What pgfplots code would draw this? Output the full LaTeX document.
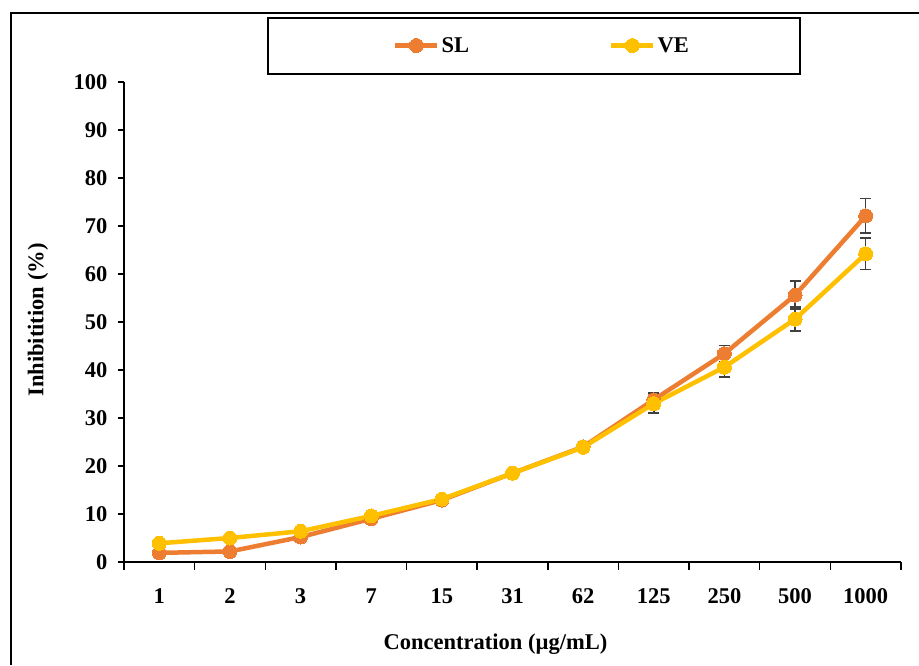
\documentclass[border=0pt]{standalone}
\usepackage{fontspec}
\setmainfont{Liberation Serif}
\usepackage{pgfplots}
\pgfplotsset{compat=1.18}
\usepackage{pgfplotstable}
\definecolor{slc}{HTML}{ED7D31}
\definecolor{vec}{HTML}{FFC000}
\definecolor{errc}{HTML}{404040}
\pgfplotstableread{
x y e
0 1.9 0.5
1 2.2 0.5
2 5.2 0.5
3 9.0 0.6
4 12.9 0.6
5 18.5 0.8
6 24.0 1.0
7 33.8 1.4
8 43.4 1.7
9 55.6 2.9
10 72.1 3.6
}\sldata
\pgfplotstableread{
x y e
0 3.9 0.4
1 5.0 0.4
2 6.4 0.5
3 9.6 0.6
4 13.1 0.6
5 18.5 0.8
6 23.9 1.0
7 33.0 2.0
8 40.6 2.0
9 50.6 2.5
10 64.2 3.3
}\vedata
\begin{document}
\begin{tikzpicture}[x=1pt,y=1pt,font=\fontsize{22.5}{26}\selectfont\bfseries]
\useasboundingbox (0,0) rectangle (919,665);
\fill[white] (0,0) rectangle (919,665);
\draw[line width=1.6pt] (11,0) -- (11,652) -- (919,652);
\draw[line width=1.4pt] (268,591) rectangle (800,647);
\begin{axis}[
  at={(124pt,103pt)}, anchor=south west,
  scale only axis, width=777pt, height=480pt,
  xmin=-0.5, xmax=10.5, ymin=0, ymax=100,
  axis lines=left, axis line style={-, line width=1.5pt, black},
  xtick={0,...,10},
  xticklabels={1,2,3,7,15,31,62,125,250,500,1000},
  major x tick style={draw=none},
  minor xtick={-0.5,0.5,...,10.5},
  minor x tick style={line width=1.5pt, black},
  minor tick length=8pt,
  ytick={0,10,...,100},
  major y tick style={line width=1.5pt, black},
  major tick length=6pt,
  tick align=outside,
  xticklabel style={yshift=-17pt},
  yticklabel style={xshift=-7pt},
  /pgf/number format/assume math mode=true,
  xlabel={Concentration (µg/mL)},
  ylabel={Inhibitition (\%)},
  xlabel style={at={(axis description cs:0.5,0)}, anchor=center, yshift=-82pt, xshift=-17pt},
  every axis y label/.style={at={(-86pt,242pt)}, anchor=center, rotate=90},
  legend columns=2,
  legend style={draw=none, fill=none, at={(0.538,1.076)}, anchor=center,
    /tikz/every even column/.append style={column sep=138pt},
    font=\fontsize{22.5}{26}\selectfont\bfseries},
  legend image code/.code={\draw[#1, mark repeat=2, mark phase=2] plot coordinates {(0pt,0pt) (21pt,0pt) (42pt,0pt)};},
  clip=false,
]
\addplot[color=slc, line width=4.5pt, mark=*, mark size=7pt, mark options={solid, fill=slc, draw=slc, line width=0pt},
  error bars/.cd, y dir=both, y explicit,
  error bar style={errc, line width=1.6pt},
  error mark options={errc, rotate=90, mark size=5.5pt, line width=1.6pt}]
  table[x=x, y=y, y error=e] {\sldata};
\addlegendentry{SL}
\addplot[color=vec, line width=4.5pt, mark=*, mark size=7pt, mark options={solid, fill=vec, draw=vec, line width=0pt},
  error bars/.cd, y dir=both, y explicit,
  error bar style={errc, line width=1.6pt},
  error mark options={errc, rotate=90, mark size=5.5pt, line width=1.6pt}]
  table[x=x, y=y, y error=e] {\vedata};
\addlegendentry{VE}
\end{axis}
\end{tikzpicture}
\end{document}
